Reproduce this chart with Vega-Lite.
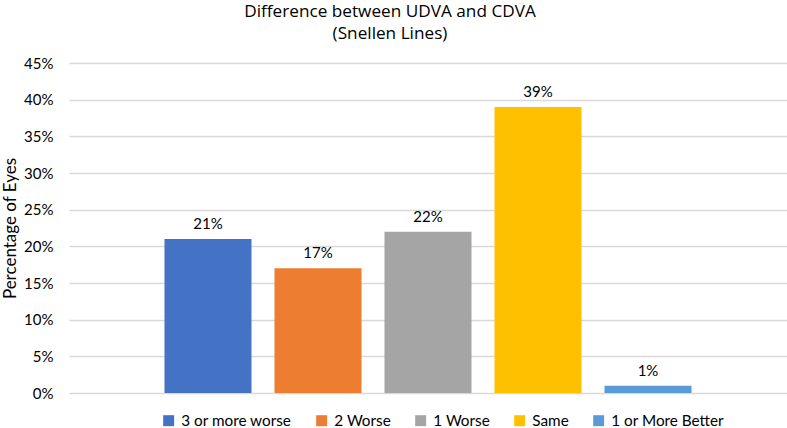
{
  "$schema": "https://vega.github.io/schema/vega-lite/v6.json",
  "autosize": "none",
  "width": 718,
  "height": 330,
  "padding": {"left": 69, "top": 63, "right": 0, "bottom": 35},
  "background": "white",
  "title": {
    "text": ["Difference between UDVA and CDVA", "(Snellen Lines)"],
    "anchor": "middle",
    "font": "Open Sans",
    "fontSize": 17.2,
    "fontWeight": "normal",
    "color": "#000000",
    "lineHeight": 22,
    "offset": 14,
    "dx": -38
  },
  "config": {
    "view": {"stroke": null},
    "font": "Lato"
  },
  "data": {
    "values": [
      {"category": "3 or more worse", "value": 0.21},
      {"category": "2 Worse", "value": 0.17},
      {"category": "1 Worse", "value": 0.22},
      {"category": "Same", "value": 0.39},
      {"category": "1 or More Better", "value": 0.01}
    ]
  },
  "encoding": {
    "x": {
      "field": "category",
      "type": "nominal",
      "sort": null,
      "scale": {"paddingInner": 0.209, "paddingOuter": 0.868},
      "axis": null
    },
    "y": {
      "field": "value",
      "type": "quantitative",
      "scale": {"domain": [0, 0.45]},
      "axis": {
        "title": "Percentage of Eyes",
        "titleFont": "Lato",
        "titleFontSize": 17,
        "titleFontWeight": "normal",
        "titleColor": "#000000",
        "titlePadding": 4,
        "format": ".0%",
        "values": [0, 0.05, 0.1, 0.15, 0.2, 0.25, 0.3, 0.35, 0.4, 0.45],
        "labelFont": "Lato",
        "labelFontSize": 15,
        "labelColor": "#000000",
        "labelPadding": 16,
        "ticks": false,
        "domain": false,
        "grid": true,
        "gridColor": "#D9D9D9",
        "gridWidth": 1.3
      }
    }
  },
  "layer": [
    {
      "mark": {"type": "bar"},
      "encoding": {
        "color": {
          "field": "category",
          "type": "nominal",
          "sort": null,
          "scale": {
            "domain": ["3 or more worse", "2 Worse", "1 Worse", "Same", "1 or More Better"],
            "range": ["#4472C4", "#ED7D31", "#A5A5A5", "#FFC000", "#5B9BD5"]
          },
          "legend": {
            "title": null,
            "orient": "none",
            "direction": "horizontal",
            "legendX": 92,
            "legendY": 350,
            "symbolType": "square",
            "symbolSize": 120,
            "symbolStrokeWidth": 0,
            "labelFont": "Lato",
            "labelFontSize": 15.3,
            "labelColor": "#000000",
            "columnPadding": 22,
            "labelOffset": 5
          }
        }
      }
    },
    {
      "mark": {"type": "text", "baseline": "bottom", "dy": -7, "font": "Lato", "fontSize": 15, "color": "#000000"},
      "encoding": {
        "text": {"field": "value", "type": "quantitative", "format": ".0%"}
      }
    }
  ]
}
